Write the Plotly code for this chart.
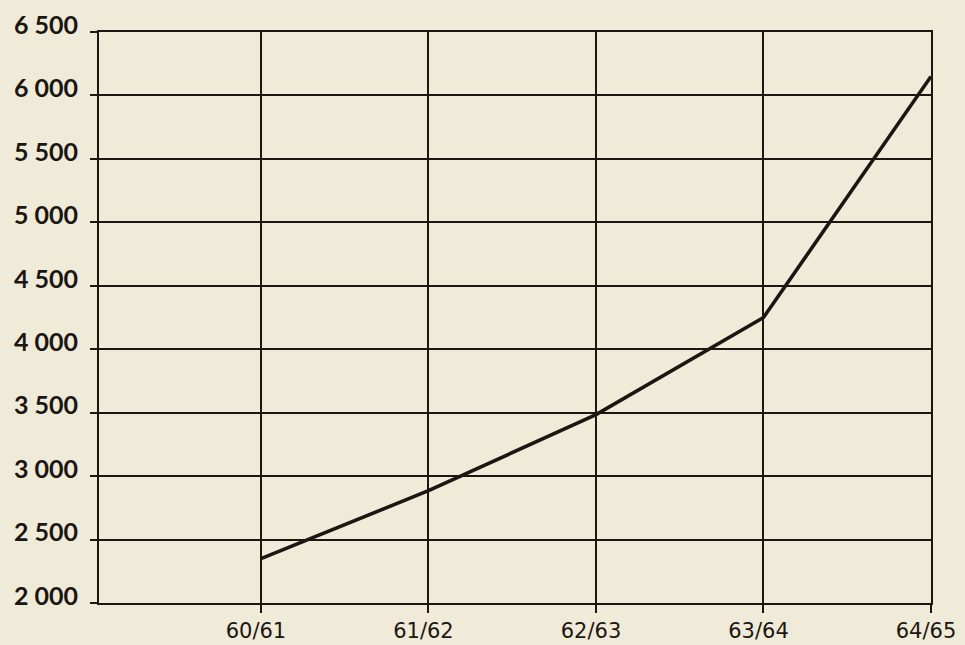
import plotly.graph_objects as go

years = ["60/61", "61/62", "62/63", "63/64", "64/65"]
values = [2350, 2885, 3485, 4250, 6150]
y_ticks = [2000, 2500, 3000, 3500, 4000, 4500, 5000, 5500, 6000, 6500]
y_tick_labels = ["2 000", "2 500", "3 000", "3 500", "4 000", "4 500", "5 000", "5 500", "6 000", "6 500"]

ink = "#1c1612"
paper = "#efebd8"

fig = go.Figure()
fig.add_trace(go.Scatter(
    x=years, y=values, mode="lines",
    line=dict(color=ink, width=3.6),
    showlegend=False, hoverinfo="skip",
))

fig.update_layout(
    width=965, height=645,
    margin=dict(l=99, r=34, t=32, b=42),
    paper_bgcolor=paper, plot_bgcolor=paper,
    font=dict(family="Lato, DejaVu Sans, sans-serif", color=ink),
)
fig.update_xaxes(
    type="category", categoryorder="array", categoryarray=years,
    range=[-0.967, 4],
    showgrid=True, gridcolor=ink, gridwidth=2,
    showline=True, linecolor=ink, linewidth=2, mirror=True,
    ticks="outside", ticklen=8, tickwidth=2, tickcolor=ink,
    tickfont=dict(size=21, family="DejaVu Sans, sans-serif", color=ink),
    ticklabelshift=-5,
    zeroline=False, automargin=False,
)
fig.update_yaxes(
    range=[2000, 6500],
    tickvals=y_ticks, ticktext=y_tick_labels,
    showgrid=True, gridcolor=ink, gridwidth=2,
    showline=True, linecolor=ink, linewidth=2, mirror=True,
    ticks="outside", ticklen=7, tickwidth=2, tickcolor=ink,
    tickfont=dict(size=25, family="Lato, sans-serif", color=ink, weight="bold"),
    ticklabelstandoff=7, ticklabelshift=-7,
    zeroline=False, automargin=False,
)

fig.write_html(
    "out.html",
    config={"displayModeBar": False},
    post_script="document.body.style.margin='0';document.body.style.overflow='hidden';",
)
